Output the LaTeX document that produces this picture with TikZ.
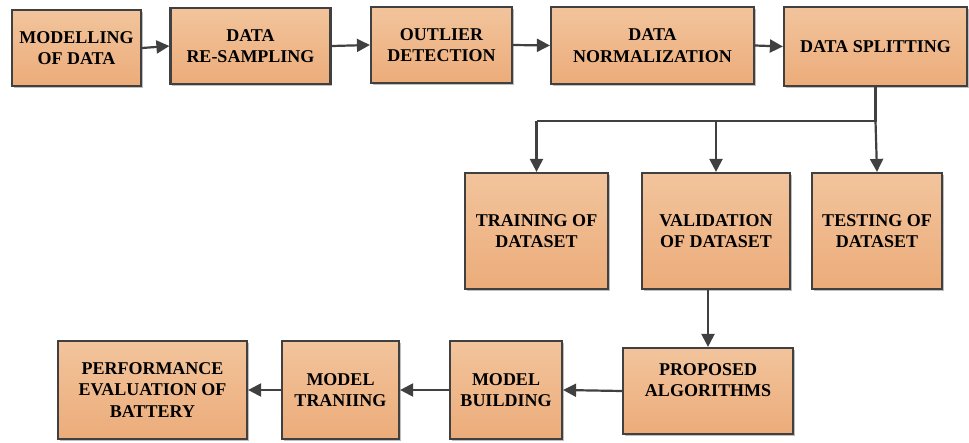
\documentclass[tikz,border=0pt]{standalone}
\usepackage{fontspec}
\setmainfont{Liberation Serif}
\usetikzlibrary{arrows.meta,shadows}
\definecolor{boxtop}{RGB}{242,196,156}
\definecolor{boxbot}{RGB}{236,172,122}
\definecolor{edge}{RGB}{64,64,64}
\tikzset{
  procbox/.style={draw=edge, line width=2.2pt, top color=boxtop, bottom color=boxbot,
    align=center, inner sep=2pt, font=\rmfamily\bfseries\fontsize{18}{21.5}\selectfont,
    drop shadow={shadow xshift=1.5pt, shadow yshift=-1.5pt, opacity=0.25, fill=black}},
  txtonly/.style={align=center, inner sep=0pt, font=\rmfamily\bfseries\fontsize{18}{21.5}\selectfont},
  flow/.style={draw=edge, line width=2.2pt, -{Triangle[length=13pt,width=13pt]}},
  plain/.style={draw=edge, line width=2.2pt}
}
\begin{document}
\begin{tikzpicture}[x=1pt,y=1pt]
\useasboundingbox (0,0) rectangle (969,-442);
\node[procbox, minimum width=129pt, minimum height=76pt] (b1) at (76.5,-48) {MODELLING\\OF DATA};
\node[procbox, minimum width=160pt, minimum height=76pt] (b2) at (250.5,-46) {DATA\\RE-SAMPLING};
\node[procbox, minimum width=141pt, minimum height=76pt] (b3) at (441.5,-45) {OUTLIER\\DETECTION};
\node[procbox, minimum width=203pt, minimum height=77pt] (b4) at (652.5,-45.5) {DATA\\NORMALIZATION};
\node[procbox, minimum width=183pt, minimum height=79pt] (b5) at (875.5,-46.5) {DATA SPLITTING};
\node[procbox, minimum width=143pt, minimum height=116pt] (tr) at (536.5,-231) {TRAINING OF\\DATASET};
\node[procbox, minimum width=148pt, minimum height=116pt] (va) at (716,-231) {VALIDATION\\OF DATASET};
\node[procbox, minimum width=130pt, minimum height=116pt] (te) at (877,-231) {TESTING OF\\DATASET};
\node[procbox, minimum width=170pt, minimum height=86pt] (pa) at (708,-391) {};
\node[txtonly] (patext) at (708,-380) {PROPOSED\\ALGORITHMS};
\node[procbox, minimum width=112pt, minimum height=98pt] (mb) at (506,-390) {MODEL\\BUILDING};
\node[procbox, minimum width=117pt, minimum height=98pt] (mt) at (340.5,-390) {MODEL\\TRANIING};
\node[procbox, minimum width=189pt, minimum height=98pt] (pe) at (152.5,-390) {PERFORMANCE\\EVALUATION OF\\BATTERY};
\coordinate (split) at (b5.south |- 0,-121);
\coordinate (left) at (tr.north |- 0,-121);
\coordinate (mid) at (va.north |- 0,-121);
\draw[flow] (b1.east) -- (b2.west);
\draw[flow] (b2.east) -- (b3.west);
\draw[flow] (b3.east) -- (b4.west);
\draw[flow] (b4.east) -- (b5.west);
\draw[plain] (b5.south) -- (split) -- (left);
\draw[flow] (left) -- (tr.north);
\draw[flow] (mid) -- (va.north);
\draw[flow] (split) -- (te.north);
\draw[flow] (pa.north |- va.south) -- (pa.north);
\draw[flow] (pa.west) -- (mb.east);
\draw[flow] (mb.west) -- (mt.east);
\draw[flow] (mt.west) -- (pe.east);
\end{tikzpicture}
\end{document}
